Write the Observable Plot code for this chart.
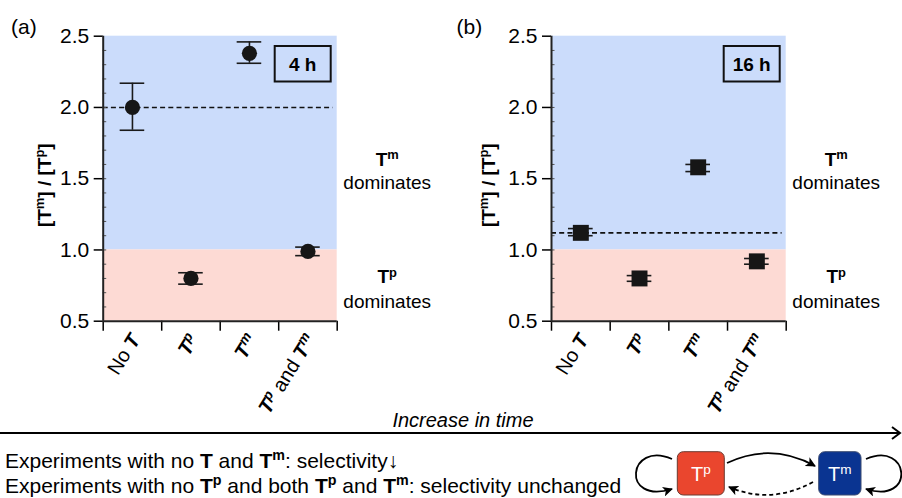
<!DOCTYPE html>
<html><head><meta charset="utf-8">
<script src="https://cdn.jsdelivr.net/npm/d3@7"></script>
<script src="https://cdn.jsdelivr.net/npm/@observablehq/plot@0.6"></script>
<style>
body{margin:0;background:#fff;}
#fig{position:relative;width:902px;height:498px;overflow:hidden;background:#fff;}
#fig svg{position:absolute;top:0;overflow:visible;}
</style></head><body><div id="fig"></div>
<script>
// ---------- data ----------
const categories = ["No **__T__**", "**__T^p__**", "**__T^m__**", "**__T^p__** and **__T^m__**"];
const ratio4h    = [2.00, 0.80, 2.38, 0.99];
const errLow4h   = [1.84, 0.76, 2.31, 0.96];
const errHigh4h  = [2.17, 0.84, 2.46, 1.02];
const ratio16h   = [1.12, 0.80, 1.58, 0.92];
const errLow16h  = [1.10, 0.78, 1.55, 0.90];
const errHigh16h = [1.15, 0.82, 1.60, 0.94];
const yTicks = [0.5, 1.0, 1.5, 2.0, 2.5];
const xBounds = [0, 1, 2, 3, 4];
const regions = [{from: 1.0, to: 2.5, who: "m"}, {from: 0.5, to: 1.0, who: "p"}];
const sideNotes = [
  {y: 1.635, text: "**T^m**"}, {y: 1.468, text: "dominates"},
  {y: 0.808, text: "**T^p**"}, {y: 0.638, text: "dominates"}
];
const yLabel = "**[T^m] / [T^p]**";
const panelTags = ["(a)", "(b)"];
const timeTags = ["4 h", "16 h"];

// ---------- style ----------
const FONT = '"Liberation Sans", Arial, Helvetica, sans-serif';
const regionFill = {m: "rgb(203,220,251)", p: "rgb(253,218,212)"};
const NS = "http://www.w3.org/2000/svg";

function richify(el) {
  const s = el.textContent;
  if (!/\*\*|__|\^/.test(s)) return;
  while (el.firstChild) el.removeChild(el.firstChild);
  let bold = false, ital = false, i = 0, buf = "", shifted = false;
  function add(txt, sup) {
    const t = document.createElementNS(NS, "tspan");
    t.textContent = txt;
    if (bold) t.setAttribute("font-weight", "bold");
    if (ital) t.setAttribute("font-style", "italic");
    if (sup) { t.setAttribute("font-size", "68%"); t.setAttribute("dy", "-0.52em"); shifted = true; }
    else if (shifted) { t.setAttribute("dy", "0.354em"); shifted = false; }
    el.appendChild(t);
  }
  const flush = () => { if (buf) { add(buf, false); buf = ""; } };
  while (i < s.length) {
    if (s.startsWith("**", i)) { flush(); bold = !bold; i += 2; }
    else if (s.startsWith("__", i)) { flush(); ital = !ital; i += 2; }
    else if (s[i] === "^") { flush(); add(s[i + 1], true); i += 2; }
    else { buf += s[i]; i++; }
  }
  flush();
}

function panel({values, lo, hi, symbol, r, left, mLeft, mRight, tag, time, yLabelX, tagX}) {
  const rows = categories.map((c, i) => ({cat: c, i, v: values[i], lo: lo[i], hi: hi[i]}));
  const cx = d => d.i + 0.5;
  const plot = Plot.plot({
    width: 451, height: 498,
    marginLeft: mLeft, marginRight: mRight, marginTop: 35.7, marginBottom: 177.3,
    x: {domain: [0, 4]},
    y: {domain: [0.5, 2.5]},
    color: {type: "identity"},
    style: {fontFamily: FONT, fontSize: "21px", color: "#000", background: "transparent", overflow: "visible"},
    marks: [
      Plot.rect(regions, {x1: 0, x2: 4, y1: "from", y2: "to", fill: d => regionFill[d.who]}),
      Plot.ruleY([values[0]], {x1: 0, x2: 3.93, stroke: "#111", strokeWidth: 1.6, strokeDasharray: "5,3.2"}),
      Plot.ruleY(d3.range(0.6, 2.5, 0.1), {x1: 0, x2: 0.06, stroke: "#555", strokeWidth: 1}),
      Plot.axisY({ticks: yTicks, tickSize: 9, tickPadding: 5, tickFormat: d3.format(".1f"), fontSize: 21, strokeWidth: 1.5, label: null}),
      Plot.axisX({ticks: xBounds, tickSize: 10, tickFormat: () => "", strokeWidth: 1.5, label: null}),
      Plot.ruleX([0], {y1: 0.5, y2: 2.5, stroke: "#222", strokeWidth: 2}),
      Plot.ruleY([0.5], {x1: 0, x2: 4, stroke: "#222", strokeWidth: 2}),
      Plot.ruleX(rows, {x: cx, y1: "lo", y2: "hi", stroke: "#1a1a1a", strokeWidth: 1.6}),
      Plot.ruleY(rows, {y: "lo", x1: d => cx(d) - 0.21, x2: d => cx(d) + 0.21, stroke: "#1a1a1a", strokeWidth: 1.6}),
      Plot.ruleY(rows, {y: "hi", x1: d => cx(d) - 0.21, x2: d => cx(d) + 0.21, stroke: "#1a1a1a", strokeWidth: 1.6}),
      Plot.dot(rows, {x: cx, y: "v", r, symbol, fill: "#161616", stroke: "none"}),
      Plot.text(rows, {x: cx, y: 0.5, text: "cat", rotate: -58, textAnchor: "end", dx: 3, dy: 15, fontSize: 20, fill: "#000"}),
      Plot.text(sideNotes, {x: 4, y: "y", text: "text", dx: 50, fontSize: 19, fill: "#000"})
    ]
  });
  plot.style.left = left + "px";
  const svg = d3.select(plot);
  svg.selectAll("text").each(function() { richify(this); });
  const xr = plot.scale("x").range, yr = plot.scale("y").range;
  const fx0 = Math.min(...xr), fx1 = Math.max(...xr), fy0 = Math.min(...yr), fy1 = Math.max(...yr);
  // y axis title
  svg.append("text").attr("text-anchor", "middle").attr("font-size", 19).attr("font-family", FONT)
    .attr("transform", `translate(${yLabelX},${(fy0 + fy1) / 2 + 7}) rotate(-90)`)
    .text(yLabel).each(function() { richify(this); });
  // time box
  const bw = 56, bh = 35.5, bx = fx1 - 6 - bw, by = fy0 + 10.3;
  svg.append("rect").attr("x", bx).attr("y", by).attr("width", bw).attr("height", bh)
    .attr("fill", "none").attr("stroke", "#111").attr("stroke-width", 2);
  svg.append("text").attr("x", bx + bw / 2).attr("y", by + bh / 2 + 7).attr("text-anchor", "middle")
    .attr("font-weight", "bold").attr("font-size", 19).attr("font-family", FONT).text(time);
  svg.append("text").attr("x", tagX).attr("y", 34).attr("text-anchor", "start")
    .attr("font-size", 21).attr("font-family", FONT).text(tag);
  document.getElementById("fig").appendChild(plot);
}

panel({values: ratio4h, lo: errLow4h, hi: errHigh4h, symbol: "circle", r: 7.6, left: 0,
  mLeft: 102.7, mRight: 114.3, tag: panelTags[0], time: timeTags[0], yLabelX: 51, tagX: 11});
panel({values: ratio16h, lo: errLow16h, hi: errHigh16h, symbol: "square", r: 9, left: 451,
  mLeft: 100, mRight: 116.3, tag: panelTags[1], time: timeTags[1], yLabelX: 44, tagX: 5.5});

// ---------- bottom annotation ----------
const bottom = d3.select("#fig").append("svg").attr("width", 902).attr("height", 498)
  .style("left", "0px").attr("font-family", FONT);
const defs = bottom.append("defs");
defs.append("marker").attr("id", "ah").attr("viewBox", "0 0 10 10").attr("refX", 9).attr("refY", 5)
  .attr("markerWidth", 10).attr("markerHeight", 10).attr("markerUnits", "userSpaceOnUse").attr("orient", "auto")
  .append("path").attr("d", "M0,0 L10,5 L0,10 L2.5,5 Z").attr("fill", "#000");

bottom.append("text").attr("x", 463).attr("y", 427).attr("text-anchor", "middle")
  .attr("font-style", "italic").attr("font-size", 20).text("Increase in time");
bottom.append("line").attr("x1", 0).attr("x2", 899).attr("y1", 433).attr("y2", 433)
  .attr("stroke", "#000").attr("stroke-width", 2);
bottom.append("path").attr("d", "M892,427 L900,433 L892,439").attr("fill", "none")
  .attr("stroke", "#000").attr("stroke-width", 2);

const noteLines = [
  "Experiments with no **T** and **T^m**: selectivity\u2193",
  "Experiments with no **T^p** and both **T^p** and **T^m**: selectivity unchanged"
];
bottom.selectAll("text.note").data(noteLines).join("text").attr("class", "note")
  .attr("x", 5).attr("y", (d, i) => 467.5 + i * 25).attr("font-size", 21).text(d => d)
  .each(function() { richify(this); });

// states diagram
const g = bottom.append("g");
g.append("rect").attr("x", 677.3).attr("y", 451.7).attr("width", 47).attr("height", 43.3).attr("rx", 6)
  .attr("fill", "rgb(234,70,46)").attr("stroke", "#6b3a30").attr("stroke-width", 1);
g.append("rect").attr("x", 818.7).attr("y", 451.7).attr("width", 42.3).attr("height", 43.3).attr("rx", 6)
  .attr("fill", "rgb(10,52,145)").attr("stroke", "#3a4a70").attr("stroke-width", 1);
g.append("text").attr("x", 700.8).attr("y", 481).attr("text-anchor", "middle").attr("fill", "#fff")
  .attr("font-size", 20).text("T^p").each(function() { richify(this); });
g.append("text").attr("x", 839.8).attr("y", 481).attr("text-anchor", "middle").attr("fill", "#fff")
  .attr("font-size", 20).text("T^m").each(function() { richify(this); });
const arrows = [
  {d: "M672,459 C628,440 620,505 672,489", dash: null},
  {d: "M866,459 C910,440 916,505 866,489", dash: null},
  {d: "M727,463 Q771,442 815,466", dash: null},
  {d: "M813,482 Q771,505 729,487", dash: "4,3"}
];
g.selectAll("path.arr").data(arrows).join("path").attr("class", "arr").attr("d", d => d.d)
  .attr("fill", "none").attr("stroke", "#000").attr("stroke-width", 1.8)
  .attr("stroke-dasharray", d => d.dash).attr("marker-end", "url(#ah)");
</script></body></html>
